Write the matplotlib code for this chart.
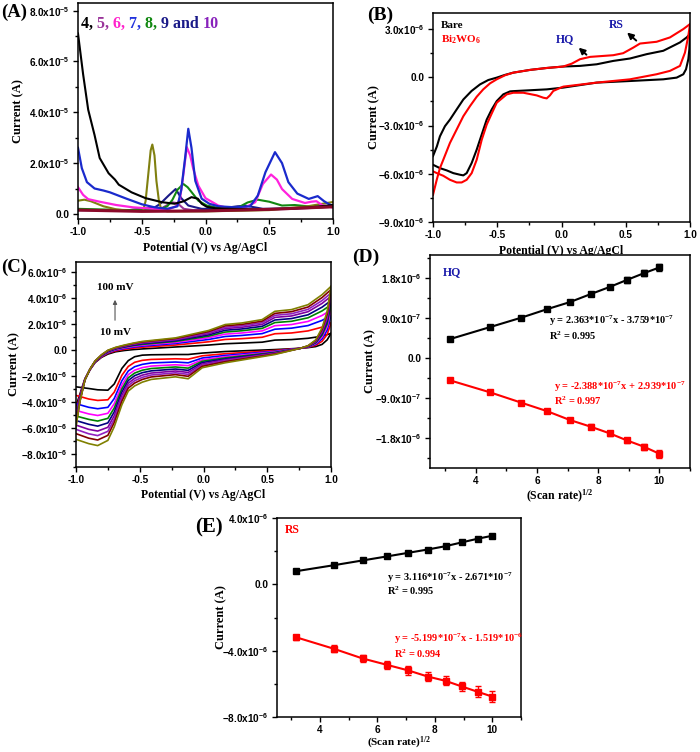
import matplotlib
matplotlib.use("Agg")
import matplotlib.pyplot as plt
from matplotlib.ticker import MultipleLocator, FuncFormatter
import numpy as np

plt.rcParams['font.family'] = ['Liberation Serif', 'DejaVu Serif']
plt.rcParams['font.weight'] = 'bold'
plt.rcParams['axes.labelweight'] = 'bold'
plt.rcParams['mathtext.fontset'] = 'custom'
plt.rcParams['mathtext.rm'] = 'Liberation Serif:bold'
plt.rcParams['mathtext.it'] = 'Liberation Serif:italic:bold'
plt.rcParams['mathtext.bf'] = 'Liberation Serif:bold'
plt.rcParams['mathtext.sf'] = 'Liberation Sans:bold'

# ---------------- (A) DPV curves, current in 1e-5 A ----------------
a_black_pot = [-1.0, -0.96, -0.92, -0.87, -0.83, -0.76, -0.71, -0.68, -0.58, -0.47, -0.34, -0.24,
               -0.17, -0.11, -0.06, -0.03, 0.01, 0.08, 0.2, 0.4, 0.6, 0.8, 1.0]
a_black_cur = [7.1, 5.5, 4.1, 3.1, 2.2, 1.6, 1.35, 1.15, 0.85, 0.62, 0.46, 0.40,
               0.50, 0.66, 0.60, 0.40, 0.28, 0.22, 0.20, 0.18, 0.20, 0.25, 0.35]
a_blue_pot = [-1.0, -0.97, -0.93, -0.87, -0.8, -0.75, -0.62, -0.5, -0.4, -0.3, -0.22, -0.19, -0.16,
              -0.135, -0.11, -0.08, -0.03, 0.03, 0.1, 0.23, 0.35, 0.41, 0.47, 0.545, 0.6, 0.65,
              0.72, 0.81, 0.88, 0.93, 0.97, 1.0]
a_blue_cur = [2.6, 1.8, 1.25, 1.0, 0.92, 0.85, 0.6, 0.38, 0.26, 0.2, 0.3, 0.95, 2.2,
              3.35, 2.6, 1.3, 0.6, 0.4, 0.3, 0.26, 0.3, 0.72, 1.64, 2.43, 2.0, 1.25,
              0.8, 0.59, 0.70, 0.5, 0.38, 0.32]
a_magenta_pot = [-1.0, -0.96, -0.92, -0.83, -0.7, -0.57, -0.4, -0.3, -0.23, -0.2, -0.175, -0.147,
                 -0.12, -0.096, -0.056, 0.0, 0.1, 0.2, 0.3, 0.39, 0.45, 0.514, 0.56, 0.6, 0.68,
                 0.78, 0.83, 0.87, 0.92, 1.0]
a_magenta_cur = [1.05, 0.75, 0.58, 0.48, 0.35, 0.26, 0.2, 0.16, 0.3, 0.6, 1.5, 2.63,
                 2.3, 1.77, 1.11, 0.62, 0.33, 0.2, 0.22, 0.46, 1.18, 1.55, 1.35, 0.98, 0.59,
                 0.43, 0.48, 0.50, 0.33, 0.25]
a_olive_pot = [-1.0, -0.95, -0.9, -0.8, -0.7, -0.6, -0.49, -0.47, -0.45, -0.43, -0.417, -0.40,
               -0.385, -0.365, -0.345, -0.3, 0.0, 0.5, 0.8, 1.0]
a_olive_cur = [0.52, 0.56, 0.5, 0.3, 0.18, 0.12, 0.12, 0.5, 1.5, 2.5, 2.73, 2.3,
               1.3, 0.5, 0.15, 0.1, 0.1, 0.15, 0.3, 0.47]
a_green_pot = [-1.0, -0.6, -0.35, -0.3, -0.26, -0.22, -0.174, -0.14, -0.108, -0.056, 0.01, 0.14,
               0.26, 0.33, 0.41, 0.5, 0.6, 0.7, 0.8, 0.9, 1.0]
a_green_cur = [0.2, 0.15, 0.2, 0.3, 0.55, 0.95, 1.18, 1.05, 0.85, 0.52, 0.33, 0.2,
               0.26, 0.45, 0.56, 0.48, 0.33, 0.35, 0.3, 0.26, 0.3]
a_navy_pot = [-1.0, -0.6, -0.4, -0.357, -0.29, -0.234, -0.19, -0.135, -0.08, -0.03, 0.1, 0.25,
              0.32, 0.45, 0.7, 1.0]
a_navy_cur = [0.15, 0.15, 0.25, 0.39, 0.72, 0.98, 0.62, 0.33, 0.26, 0.2, 0.2, 0.3,
              0.32, 0.2, 0.22, 0.32]
a_purple_pot = [-1.0, -0.6, -0.35, -0.3, -0.265, -0.22, -0.17, -0.1, 0.3, 0.7, 1.0]
a_purple_cur = [0.15, 0.15, 0.2, 0.35, 0.46, 0.42, 0.2, 0.15, 0.15, 0.2, 0.28]
a_maroon_pot = [-1.0, -0.5, 0.0, 0.5, 1.0]
a_maroon_cur = [0.15, 0.1, 0.12, 0.18, 0.28]
a_label_parts = ["4, ", "5, ", "6, ", "7, ", "8, ", "9 and ", "10"]
a_label_colors = ["black", "#993399", "#ff22cc", "#2233dd", "#118811", "#1a1a88", "#8822bb"]

# ---------------- (B) CV of bare and Bi2WO6, current in 1e-6 A ----------------
b_bare_up_pot = [-1.0, -0.97, -0.946, -0.907, -0.868, -0.816, -0.764, -0.70, -0.634, -0.57, -0.504,
                 -0.44, -0.375, -0.245, -0.115, 0.014, 0.144, 0.274, 0.403, 0.533, 0.663, 0.792,
                 0.922, 0.974, 1.0]
b_bare_up_cur = [-4.9, -4.3, -3.67, -3.04, -2.63, -2.0, -1.38, -0.85, -0.44, -0.17, -0.02,
                 0.15, 0.29, 0.46, 0.58, 0.67, 0.71, 0.81, 1.02, 1.17, 1.44, 1.65,
                 2.17, 2.48, 2.69]
b_bare_dn_pot = [1.0, 0.995, 0.987, 0.969, 0.948, 0.896, 0.792, 0.533, 0.274, 0.014, -0.115,
                 -0.375, -0.40, -0.453, -0.504, -0.543, -0.582, -0.621, -0.66, -0.699, -0.738,
                 -0.764, -0.79, -0.842, -0.893, -0.946, -1.0]
b_bare_dn_cur = [2.69, 1.75, 1.125, 0.5, 0.19, -0.02, -0.125, -0.23, -0.33, -0.64, -0.75,
                 -0.86, -0.875, -1.06, -1.48, -2.0, -2.63, -3.56, -4.5, -5.33, -5.96,
                 -6.1, -6.06, -5.96, -5.79, -5.65, -5.44]
b_bwo_up_pot = [-1.0, -0.971, -0.946, -0.92, -0.868, -0.816, -0.764, -0.712, -0.66, -0.609, -0.556,
                -0.504, -0.44, -0.375, -0.245, -0.115, 0.014, 0.08, 0.144, 0.222, 0.403, 0.48,
                0.559, 0.611, 0.74, 0.844, 0.948, 1.0]
b_bwo_up_cur = [-7.31, -6.375, -5.65, -5.13, -4.08, -3.25, -2.42, -1.79, -1.21, -0.75, -0.375,
                -0.125, 0.125, 0.29, 0.46, 0.58, 0.67, 0.85, 1.125, 1.27, 1.375, 1.5,
                1.85, 2.1, 2.21, 2.48, 3.0, 3.31]
b_bwo_dn_pot = [1.0, 0.987, 0.961, 0.922, 0.844, 0.74, 0.533, 0.274, 0.014, -0.025, -0.064, -0.09,
                -0.115, -0.141, -0.193, -0.297, -0.375, -0.426, -0.504, -0.543, -0.582, -0.621,
                -0.66, -0.699, -0.738, -0.777, -0.816, -0.868, -0.92, -0.97, -1.0]
b_bwo_dn_cur = [3.31, 2.58, 1.54, 0.71, 0.40, 0.19, -0.125, -0.33, -0.58, -0.71, -0.85, -1.125,
                -1.31, -1.27, -1.125, -0.96, -0.96, -1.06, -1.58, -2.25, -2.94, -3.89,
                -5.13, -5.96, -6.375, -6.54, -6.54, -6.375, -6.125, -5.96, -5.85]

# ---------------- (C) CV at 10..100 mV/s, current in 1e-6 A ----------------
c_rates = [10, 20, 30, 40, 50, 60, 70, 80, 90, 100]
c_colors = ["black", "red", "blue", "magenta", "#008000", "#000080", "#8000a0", "#9020c0",
            "#800000", "#808000"]
c_up_pot = [-1.0, -0.97, -0.93, -0.89, -0.85, -0.80, -0.75, -0.69, -0.62, -0.55, -0.48, -0.22,
            0.04, 0.17, 0.30, 0.46, 0.56, 0.69, 0.82, 0.93, 1.0]
c_up_cur = [
    [-4.3, -3.4, -2.2, -1.5, -0.95, -0.55, -0.30, -0.12, -0.02, 0.05, 0.10, 0.25, 0.40, 0.50, 0.55, 0.62, 0.78, 0.82, 0.92, 1.08, 1.30],
    [-4.65, -3.53, -2.22, -1.49, -0.92, -0.51, -0.23, -0.05, 0.07, 0.16, 0.23, 0.40, 0.65, 0.83, 0.89, 1.00, 1.27, 1.33, 1.49, 1.78, 2.10],
    [-4.91, -3.63, -2.24, -1.48, -0.90, -0.47, -0.19, 0.01, 0.14, 0.24, 0.32, 0.52, 0.83, 1.06, 1.14, 1.28, 1.62, 1.70, 1.90, 2.30, 2.68],
    [-5.1, -3.7, -2.25, -1.48, -0.89, -0.45, -0.15, 0.05, 0.19, 0.30, 0.39, 0.60, 0.96, 1.24, 1.33, 1.49, 1.89, 1.98, 2.22, 2.68, 3.11],
    [-5.28, -3.77, -2.26, -1.47, -0.87, -0.43, -0.12, 0.09, 0.24, 0.36, 0.45, 0.68, 1.08, 1.40, 1.50, 1.68, 2.13, 2.23, 2.50, 3.03, 3.51],
    [-5.42, -3.82, -2.27, -1.47, -0.86, -0.41, -0.09, 0.12, 0.27, 0.40, 0.51, 0.74, 1.18, 1.54, 1.64, 1.84, 2.33, 2.44, 2.73, 3.32, 3.83],
    [-5.56, -3.87, -2.28, -1.46, -0.85, -0.39, -0.06, 0.15, 0.31, 0.45, 0.56, 0.80, 1.28, 1.67, 1.77, 1.99, 2.53, 2.64, 2.97, 3.61, 4.16],
    [-5.68, -3.92, -2.29, -1.46, -0.84, -0.38, -0.04, 0.17, 0.34, 0.48, 0.60, 0.85, 1.36, 1.77, 1.88, 2.12, 2.69, 2.81, 3.15, 3.83, 4.41],
    [-5.79, -3.96, -2.29, -1.45, -0.83, -0.36, -0.02, 0.20, 0.37, 0.52, 0.64, 0.90, 1.44, 1.88, 1.99, 2.24, 2.84, 2.97, 3.33, 4.06, 4.67],
    [-5.9, -4.0, -2.3, -1.45, -0.82, -0.35, 0.0, 0.22, 0.40, 0.55, 0.68, 0.95, 1.52, 1.98, 2.10, 2.36, 3.00, 3.13, 3.51, 4.28, 4.92],
]
c_dn_pot = [1.0, 0.97, 0.93, 0.88, 0.82, 0.76, 0.56, 0.17, -0.01, -0.12, -0.22, -0.41, -0.48,
            -0.54, -0.59, -0.64, -0.70, -0.75, -0.83, -0.90, -1.0]
c_dn_cur = [
    [1.30, 0.80, 0.45, 0.28, 0.20, 0.15, 0.05, -0.10, -0.22, -0.33, -0.33, -0.35, -0.38, -0.50, -0.80, -1.40, -2.60, -3.08, -3.05, -2.95, -2.82],
    [2.10, 1.22, 0.69, 0.38, 0.23, 0.15, -0.02, -0.27, -0.43, -0.69, -0.66, -0.71, -0.78, -0.93, -1.25, -1.93, -3.23, -3.82, -3.87, -3.76, -3.48],
    [2.68, 1.55, 0.88, 0.46, 0.25, 0.15, -0.08, -0.40, -0.60, -0.97, -0.91, -0.98, -1.09, -1.27, -1.60, -2.35, -3.72, -4.40, -4.51, -4.40, -4.12],
    [3.11, 1.81, 1.03, 0.52, 0.27, 0.15, -0.12, -0.50, -0.74, -1.19, -1.12, -1.22, -1.34, -1.54, -1.88, -2.69, -4.12, -4.86, -5.03, -4.91, -4.64],
    [3.51, 2.03, 1.16, 0.57, 0.28, 0.15, -0.16, -0.59, -0.85, -1.38, -1.29, -1.41, -1.54, -1.76, -2.12, -2.97, -4.45, -5.25, -5.46, -5.33, -5.07],
    [3.83, 2.23, 1.28, 0.62, 0.30, 0.15, -0.20, -0.67, -0.95, -1.55, -1.45, -1.59, -1.73, -1.96, -2.33, -3.22, -4.75, -5.60, -5.85, -5.71, -5.42],
    [4.16, 2.43, 1.39, 0.66, 0.31, 0.15, -0.23, -0.74, -1.06, -1.71, -1.60, -1.76, -1.92, -2.17, -2.54, -3.47, -5.04, -5.94, -6.23, -6.10, -5.77],
    [4.41, 2.60, 1.49, 0.71, 0.32, 0.15, -0.26, -0.81, -1.15, -1.86, -1.74, -1.91, -2.09, -2.35, -2.73, -3.70, -5.31, -6.25, -6.58, -6.44, -6.10],
    [4.67, 2.78, 1.59, 0.75, 0.34, 0.15, -0.29, -0.88, -1.24, -2.01, -1.88, -2.06, -2.25, -2.53, -2.92, -3.92, -5.57, -6.56, -6.92, -6.78, -6.43],
    [4.92, 3.00, 1.72, 0.80, 0.35, 0.15, -0.33, -0.97, -1.35, -2.20, -2.05, -2.25, -2.46, -2.75, -3.15, -4.20, -5.90, -6.95, -7.35, -7.20, -6.87],
]

# ---------------- (D) HQ and (E) RS peak currents vs sqrt(scan rate) ----------------
sqrt_rate = [3.16, 4.47, 5.48, 6.32, 7.07, 7.75, 8.37, 8.94, 9.49, 10.0]
hq_ox = [0.43, 0.70, 0.91, 1.10, 1.26, 1.44, 1.60, 1.76, 1.91, 2.04]      # 1e-6 A
hq_ox_err = [0.02, 0.03, 0.03, 0.04, 0.04, 0.05, 0.05, 0.06, 0.07, 0.08]
hq_red = [-0.50, -0.77, -1.00, -1.19, -1.39, -1.54, -1.69, -1.85, -1.99, -2.15]
hq_red_err = [0.02, 0.03, 0.03, 0.04, 0.05, 0.05, 0.06, 0.06, 0.07, 0.09]
rs_ox = [0.79, 1.15, 1.44, 1.68, 1.90, 2.10, 2.30, 2.53, 2.75, 2.93]
rs_ox_err = [0.05, 0.05, 0.06, 0.06, 0.07, 0.07, 0.08, 0.09, 0.1, 0.12]
rs_red = [-3.19, -3.88, -4.47, -4.85, -5.19, -5.56, -5.82, -6.16, -6.48, -6.77]
rs_red_err = [0.16, 0.2, 0.22, 0.24, 0.25, 0.27, 0.28, 0.3, 0.32, 0.35]

W, H = 700.0, 752.0


def rect(left, top, right, bottom):
    return [left / W, 1 - bottom / H, (right - left) / W, (bottom - top) / H]


def sci_fmt(v, pos):
    if abs(v) < 1e-15:
        return '0.0'
    e = int(np.floor(np.log10(abs(v)) + 1e-9))
    m = v / 10 ** e
    return r'$\mathsf{%.1fx10^{%d}}$' % (m, e)


def style(ax):
    for sp in ax.spines.values():
        sp.set_linewidth(1.1)
    ax.tick_params(which='both', direction='out', top=False, right=False,
                   labelsize=7.2, labelfontfamily='Liberation Sans', width=1.0, pad=2.5)
    ax.tick_params(which='major', length=3.5)
    ax.tick_params(which='minor', length=2)
    ax.yaxis.set_major_formatter(FuncFormatter(sci_fmt))


def pot_axis(ax, ylab_x):
    ax.set_xlim(-1, 1)
    ax.set_xticks([-1, -0.5, 0, 0.5, 1])
    ax.xaxis.set_minor_locator(MultipleLocator(0.25))
    ax.xaxis.set_major_formatter(FuncFormatter(lambda v, p: '%.1f' % v))
    ax.set_xlabel('Potential (V) vs Ag/AgCl', fontsize=8.5, labelpad=3)
    ax.set_ylabel('Current (A)', fontsize=9)
    ax.yaxis.set_label_coords(ylab_x, 0.5)


fig = plt.figure(figsize=(7, 7.52), dpi=100)

# (A)
axA = fig.add_axes(rect(78, 3, 333, 219))
style(axA)
s = 1e-5
axA.plot(a_purple_pot, np.array(a_purple_cur) * s, color='#993399', lw=1.5)
axA.plot(a_navy_pot, np.array(a_navy_cur) * s, color='#1a1a88', lw=1.5)
axA.plot(a_green_pot, np.array(a_green_cur) * s, color='#118811', lw=1.5)
axA.plot(a_olive_pot, np.array(a_olive_cur) * s, color='#808010', lw=1.5)
axA.plot(a_magenta_pot, np.array(a_magenta_cur) * s, color='#ff22dd', lw=1.6)
axA.plot(a_blue_pot, np.array(a_blue_cur) * s, color='#1a2acc', lw=1.6)
axA.plot(a_black_pot, np.array(a_black_cur) * s, color='black', lw=1.5)
axA.plot(a_maroon_pot, np.array(a_maroon_cur) * s, color='#8b0a2a', lw=2.2)
pot_axis(axA, -0.21)
axA.set_ylim(-0.2e-5, 8.3e-5)
axA.set_yticks([0, 2e-5, 4e-5, 6e-5, 8e-5])
axA.yaxis.set_minor_locator(MultipleLocator(1e-5))
prev = axA.text(0.012, 0.905, a_label_parts[0], transform=axA.transAxes, fontsize=11.5,
                color=a_label_colors[0], va='center', ha='left')
for part, col in zip(a_label_parts[1:], a_label_colors[1:]):
    prev = axA.annotate(part, xy=(1, 0), xycoords=prev, va='bottom', ha='left',
                        fontsize=11.5, color=col)

# (B)
axB = fig.add_axes(rect(433, 13, 690, 222))
style(axB)
s = 1e-6
axB.plot(b_bare_up_pot, np.array(b_bare_up_cur) * s, color='black', lw=1.5)
axB.plot(b_bare_dn_pot, np.array(b_bare_dn_cur) * s, color='black', lw=1.5)
axB.plot(b_bwo_up_pot, np.array(b_bwo_up_cur) * s, color='red', lw=1.5)
axB.plot(b_bwo_dn_pot, np.array(b_bwo_dn_cur) * s, color='red', lw=1.5)
pot_axis(axB, -0.205)
axB.set_ylim(-9e-6, 4e-6)
axB.set_yticks([-9e-6, -6e-6, -3e-6, 0, 3e-6])
axB.yaxis.set_minor_locator(MultipleLocator(1.5e-6))
axB.text(-0.94, 3.2e-6, 'Bare', fontsize=8, color='black', va='center')
axB.text(-0.94, 2.35e-6, r'Bi$_2$WO$_6$', fontsize=8, color='red', va='center')
axB.annotate('', xy=(0.118, 1.96e-6), xytext=(0.21, 1.29e-6),
             arrowprops=dict(arrowstyle='-|>', color='black', lw=1.4, mutation_scale=9))
axB.annotate('', xy=(0.494, 2.9e-6), xytext=(0.598, 2.17e-6),
             arrowprops=dict(arrowstyle='-|>', color='black', lw=1.4, mutation_scale=9))
axB.text(0.03, 2.4e-6, 'HQ', fontsize=8.5, color='#1a1aaa', ha='center', va='center')
axB.text(0.43, 3.25e-6, 'RS', fontsize=8.5, color='#1a1aaa', ha='center', va='center')

# (C)
axC = fig.add_axes(rect(76, 262, 331, 467))
style(axC)
for up, dn, col in zip(c_up_cur, c_dn_cur, c_colors):
    axC.plot(c_up_pot, np.array(up) * s, color=col, lw=1.2)
    axC.plot(c_dn_pot, np.array(dn) * s, color=col, lw=1.2)
pot_axis(axC, -0.22)
axC.set_ylim(-9e-6, 6.8e-6)
axC.set_yticks([-8e-6, -6e-6, -4e-6, -2e-6, 0, 2e-6, 4e-6, 6e-6])
axC.yaxis.set_minor_locator(MultipleLocator(1e-6))
axC.text(-0.694, 4.8e-6, '%d mV' % c_rates[-1], fontsize=8, ha='center', va='center')
axC.text(-0.694, 1.34e-6, '%d mV' % c_rates[0], fontsize=8, ha='center', va='center')
axC.annotate('', xy=(-0.694, 4.1e-6), xytext=(-0.694, 2.1e-6),
             arrowprops=dict(arrowstyle='-|>', color='#555555', lw=0.8, mutation_scale=6))


def scan_axis(ax, ylab_x, fs=8.5, pad=1):
    ax.set_xlim(2.5, 11)
    ax.set_xticks([4, 6, 8, 10])
    ax.xaxis.set_minor_locator(MultipleLocator(1))
    ax.set_xlabel(r'(Scan rate)$^{1/2}$', fontsize=fs, labelpad=pad)
    ax.set_ylabel('Current (A)', fontsize=9)
    ax.yaxis.set_label_coords(ylab_x, 0.5)


# (D)
axD = fig.add_axes(rect(430, 255, 690, 468))
style(axD)
axD.errorbar(sqrt_rate, np.array(hq_ox) * s, yerr=np.array(hq_ox_err) * s, color='black',
             marker='s', ms=4, lw=1.5, capsize=2, elinewidth=1)
axD.errorbar(sqrt_rate, np.array(hq_red) * s, yerr=np.array(hq_red_err) * s, color='red',
             marker='s', ms=4, lw=1.5, capsize=2, elinewidth=1)
scan_axis(axD, -0.205)
axD.set_ylim(-2.47e-6, 2.32e-6)
axD.set_yticks([-1.8e-6, -9e-7, 0, 9e-7, 1.8e-6])
axD.yaxis.set_minor_locator(MultipleLocator(4.5e-7))
axD.text(0.05, 0.92, 'HQ', transform=axD.transAxes, fontsize=8.5, color='#1a1aaa', va='center')
axD.text(6.38, 0.84e-6, r'y = 2.363*10$^{-7}$x - 3.759*10$^{-7}$', fontsize=7.5, va='center')
axD.text(6.38, 0.51e-6, r'R$^2$ = 0.995', fontsize=7.5, va='center')
axD.text(6.57, -0.64e-6, r'y = -2.388*10$^{-7}$x + 2.939*10$^{-7}$', fontsize=7.5,
         color='red', va='center')
axD.text(6.57, -0.96e-6, r'R$^2$ = 0.997', fontsize=7.5, color='red', va='center')

# (E)
axE = fig.add_axes(rect(277, 518, 521, 717))
style(axE)
axE.errorbar(sqrt_rate, np.array(rs_ox) * s, yerr=np.array(rs_ox_err) * s, color='black',
             marker='s', ms=4, lw=1.5, capsize=2, elinewidth=1)
axE.errorbar(sqrt_rate, np.array(rs_red) * s, yerr=np.array(rs_red_err) * s, color='red',
             marker='s', ms=4, lw=1.5, capsize=2, elinewidth=1)
scan_axis(axE, -0.205, fs=8, pad=0)
axE.set_ylim(-8e-6, 4e-6)
axE.set_yticks([-8e-6, -4e-6, 0, 4e-6])
axE.yaxis.set_minor_locator(MultipleLocator(2e-6))
axE.text(2.78, 3.27e-6, 'RS', fontsize=8.5, color='red', va='center')
axE.text(6.33, 0.41e-6, r'y = 3.116*10$^{-7}$x - 2.671*10$^{-7}$', fontsize=7.5, va='center')
axE.text(6.33, -0.36e-6, r'R$^2$ = 0.995', fontsize=7.5, va='center')
axE.text(6.56, -3.29e-6, r'y = -5.199*10$^{-7}$x - 1.519*10$^{-6}$', fontsize=7.5,
         color='red', va='center')
axE.text(6.56, -4.2e-6, r'R$^2$ = 0.994', fontsize=7.5, color='red', va='center')

# panel letters
fig.text(1 / W, 1 - 12 / H, '(A)', fontsize=13.5, va='center', ha='left')
fig.text(367 / W, 1 - 15 / H, '(B)', fontsize=14, va='center', ha='left')
fig.text(1 / W, 1 - 267 / H, '(C)', fontsize=13.5, va='center', ha='left')
fig.text(352 / W, 1 - 257 / H, '(D)', fontsize=14, va='center', ha='left')
fig.text(195 / W, 1 - 527 / H, '(E)', fontsize=15, va='center', ha='left')

fig.savefig('out.png', dpi=100)
